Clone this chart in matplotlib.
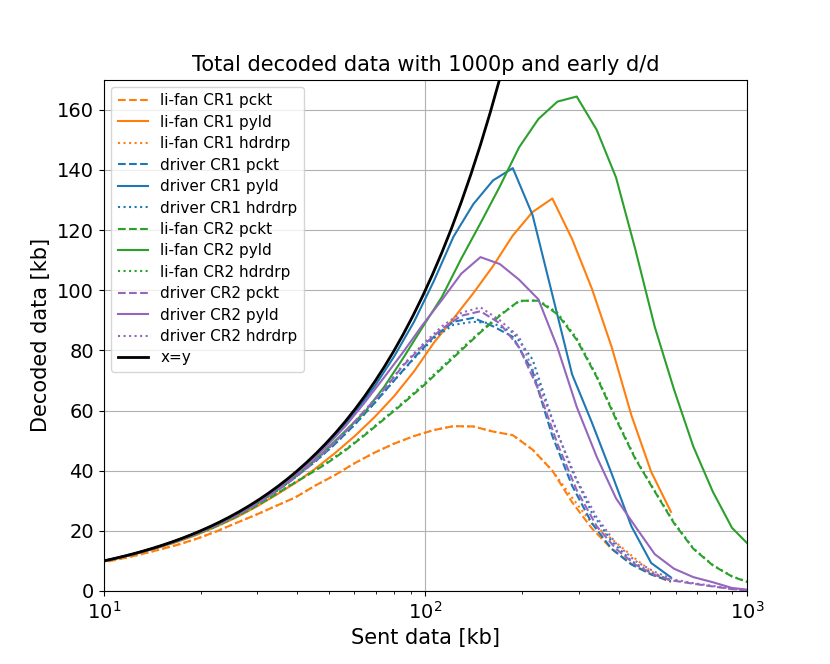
import matplotlib
matplotlib.use("Agg")
import matplotlib.pyplot as plt

# sent data sample points (kb) for the two code rates
x_cr1 = [9.57, 11.0, 12.7, 14.6, 16.9, 19.4, 22.4, 25.8, 29.7, 34.2, 39.4, 45.4, 52.3, 60.3,
         69.5, 80.0, 92.2, 106.2, 122.3, 140.9, 162.3, 187.0, 215.4, 248.2, 285.9, 329.4,
         379.5, 437.1, 503.6, 580.1]
x_cr2 = [9.4, 10.8, 12.4, 14.2, 16.3, 18.7, 21.5, 24.6, 28.3, 32.5, 37.3, 42.8, 49.2, 56.5,
         64.8, 74.4, 85.4, 98.1, 112.6, 129.3, 148.4, 170.4, 195.6, 224.5, 257.3, 295.5,
         341.0, 391.5, 449.0, 517.0, 593.0, 681.0, 783.0, 898.0, 1031.0]

# decoded data (kb), CR1
lifan_cr1_pckt = [9.2, 10.4, 11.9, 13.5, 15.3, 17.3, 19.8, 22.6, 25.3, 28.2, 31.1, 35.0, 38.5, 42.5,
                  46.0, 49.0, 51.5, 53.5, 54.8, 54.7, 53.0, 51.8, 47.0, 40.0, 29.5, 20.8,
                  14.0, 9.0, 5.5, 3.0]
lifan_cr1_pyld = [9.4, 10.8, 12.4, 14.2, 16.3, 18.6, 21.4, 24.4, 27.9, 31.8, 35.9, 40.6, 45.8, 51.5,
                  57.8, 64.8, 73.0, 82.5, 90.6, 99.0, 108.0, 118.2, 126.0, 130.5, 117.0, 100.5,
                  81.1, 58.4, 39.6, 26.3]
lifan_cr1_hdrdrp = [9.2, 10.4, 11.9, 13.5, 15.3, 17.3, 19.8, 22.6, 25.3, 28.2, 31.1, 35.0, 38.5, 42.5,
                    46.0, 49.0, 51.5, 53.5, 54.8, 54.7, 53.0, 51.8, 47.0, 40.0, 31.0, 22.5,
                    17.3, 11.8, 6.5, 3.3]
driver_cr1_pckt = [9.5, 10.9, 12.55, 14.4, 16.6, 19.0, 21.9, 25.1, 28.8, 33.0, 37.8, 43.0, 48.8, 55.3,
                   62.5, 70.0, 77.5, 84.5, 89.5, 90.8, 88.0, 84.5, 73.0, 51.5, 35.0, 22.5,
                   14.0, 8.8, 5.5, 3.2]
driver_cr1_pyld = [9.55, 10.98, 12.67, 14.56, 16.85, 19.33, 22.3, 25.65, 29.5, 33.9, 39.0, 44.8, 51.5, 59.2,
                   68.0, 78.0, 89.5, 103.0, 117.8, 128.6, 136.5, 140.6, 125.0, 98.5, 72.0, 56.0,
                   39.0, 21.5, 9.3, 4.5]
driver_cr1_hdrdrp = [9.5, 10.9, 12.55, 14.4, 16.6, 19.0, 21.9, 25.1, 28.8, 33.0, 37.8, 43.0, 48.8, 55.3,
                     62.5, 70.0, 77.3, 84.0, 88.5, 89.5, 89.0, 86.0, 77.0, 57.0, 40.0, 26.0,
                     16.5, 10.0, 6.0, 3.5]

# decoded data (kb), CR2
lifan_cr2_pckt = [9.3, 10.65, 12.2, 13.95, 15.95, 18.2, 20.7, 23.6, 26.9, 30.6, 34.6, 38.3, 42.3, 46.8,
                  51.8, 57.1, 62.4, 68.0, 74.0, 80.0, 86.0, 91.5, 96.5, 96.5, 92.0, 83.5,
                  71.1, 57.0, 44.0, 33.0, 22.5, 14.0, 8.5, 4.8, 2.5]
lifan_cr2_pyld = [9.35, 10.75, 12.3, 14.1, 16.1, 18.45, 21.1, 24.1, 27.6, 31.6, 36.1, 41.2, 47.0, 53.3,
                  59.5, 67.8, 77.5, 87.8, 97.8, 110.5, 122.3, 134.5, 147.5, 156.9, 162.7, 164.4,
                  153.3, 137.5, 113.8, 87.7, 67.0, 48.0, 33.0, 21.0, 14.5]
lifan_cr2_hdrdrp = [9.3, 10.65, 12.2, 13.95, 15.95, 18.2, 20.7, 23.6, 26.9, 30.6, 34.7, 38.5, 42.6, 47.1,
                    52.1, 57.4, 62.8, 68.5, 74.5, 80.5, 86.3, 91.8, 96.3, 96.7, 92.5, 84.0,
                    71.5, 57.5, 44.3, 33.2, 22.8, 14.2, 8.6, 4.9, 2.6]
driver_cr2_pckt = [9.35, 10.72, 12.28, 14.05, 16.05, 18.35, 21.0, 23.9, 27.4, 31.3, 35.8, 40.9, 46.7, 53.0,
                   60.0, 67.0, 75.0, 81.5, 87.2, 91.5, 93.0, 89.0, 81.0, 67.0, 49.0, 33.5,
                   21.5, 14.0, 8.8, 5.3, 3.4, 2.4, 1.5, 0.6, 0.1]
driver_cr2_pyld = [9.38, 10.78, 12.37, 14.15, 16.22, 18.6, 21.35, 24.4, 28.0, 32.1, 36.7, 42.0, 48.0, 54.9,
                   62.7, 71.0, 79.5, 88.5, 96.8, 105.5, 111.0, 108.7, 103.5, 97.0, 81.0, 61.2,
                   44.6, 30.8, 21.5, 12.2, 7.4, 4.6, 2.9, 1.0, 0.3]
driver_cr2_hdrdrp = [9.35, 10.72, 12.28, 14.05, 16.05, 18.35, 21.0, 23.9, 27.4, 31.3, 35.8, 40.9, 46.7, 53.0,
                     60.0, 67.2, 75.3, 82.0, 88.0, 92.5, 94.3, 90.0, 84.5, 69.0, 52.5, 37.0,
                     24.5, 15.8, 10.0, 6.3, 3.8, 2.6, 1.7, 0.7, 0.1]

# reference line x = y
xy_x = [9.4, 10.0, 10.8, 11.6, 12.4, 13.3, 14.2, 15.2, 16.3, 17.5, 18.7, 20.0, 21.5, 23.0, 24.6,
        26.4, 28.3, 30.4, 32.5, 34.8, 37.3, 40.0, 42.8, 45.9, 49.2, 52.7, 56.5, 60.5, 64.8,
        69.5, 74.4, 79.7, 85.4, 91.5, 98.1, 105.1, 112.6, 120.7, 129.3, 138.5, 148.4, 159.0,
        170.4, 182.6, 195.6]
xy_y = [9.4, 10.0, 10.8, 11.6, 12.4, 13.3, 14.2, 15.2, 16.3, 17.5, 18.7, 20.0, 21.5, 23.0, 24.6,
        26.4, 28.3, 30.4, 32.5, 34.8, 37.3, 40.0, 42.8, 45.9, 49.2, 52.7, 56.5, 60.5, 64.8,
        69.5, 74.4, 79.7, 85.4, 91.5, 98.1, 105.1, 112.6, 120.7, 129.3, 138.5, 148.4, 159.0,
        170.4, 182.6, 195.6]

series = [
    (x_cr1, lifan_cr1_pckt, 'li-fan CR1 pckt', 'tab:orange', '--'),
    (x_cr1, lifan_cr1_pyld, 'li-fan CR1 pyld', 'tab:orange', '-'),
    (x_cr1, lifan_cr1_hdrdrp, 'li-fan CR1 hdrdrp', 'tab:orange', ':'),
    (x_cr1, driver_cr1_pckt, 'driver CR1 pckt', 'tab:blue', '--'),
    (x_cr1, driver_cr1_pyld, 'driver CR1 pyld', 'tab:blue', '-'),
    (x_cr1, driver_cr1_hdrdrp, 'driver CR1 hdrdrp', 'tab:blue', ':'),
    (x_cr2, lifan_cr2_pckt, 'li-fan CR2 pckt', 'tab:green', '--'),
    (x_cr2, lifan_cr2_pyld, 'li-fan CR2 pyld', 'tab:green', '-'),
    (x_cr2, lifan_cr2_hdrdrp, 'li-fan CR2 hdrdrp', 'tab:green', ':'),
    (x_cr2, driver_cr2_pckt, 'driver CR2 pckt', 'tab:purple', '--'),
    (x_cr2, driver_cr2_pyld, 'driver CR2 pyld', 'tab:purple', '-'),
    (x_cr2, driver_cr2_hdrdrp, 'driver CR2 hdrdrp', 'tab:purple', ':'),
]

fig, ax = plt.subplots(figsize=(8.3, 6.64), dpi=100)

for xs, ys, label, color, ls in series:
    ax.plot(xs, ys, linestyle=ls, color=color, linewidth=1.5, label=label)
ax.plot(xy_x, xy_y, color='black', linewidth=2, label='x=y')

ax.set_xscale('log')
ax.set_xlim(10, 1000)
ax.set_ylim(0, 170)
ax.set_yticks(range(0, 161, 20))
ax.grid(True)
ax.tick_params(axis='both', which='major', labelsize=14)

ax.set_title('Total decoded data with 1000p and early d/d', fontsize=15)
ax.set_xlabel('Sent data [kb]', fontsize=15)
ax.set_ylabel('Decoded data [kb]', fontsize=15)
ax.legend(loc='upper left', fontsize=11, labelspacing=0.42)

fig.savefig('out.png', dpi=100)
